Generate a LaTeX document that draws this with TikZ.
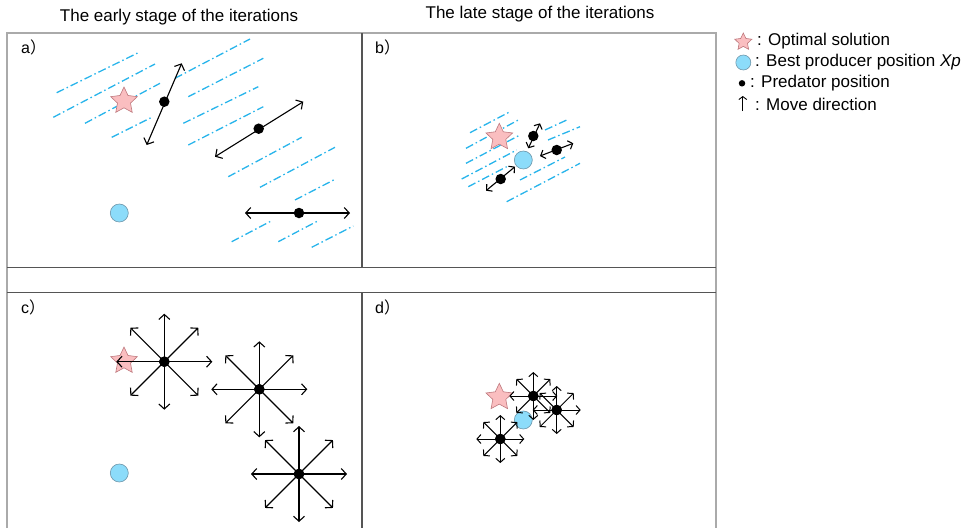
\documentclass[tikz,border=0pt]{standalone}
\usepackage{fontspec}
\setmainfont{Liberation Sans}
\newfontfamily\cjk{Noto Sans CJK SC}
\usetikzlibrary{arrows.meta,shapes.geometric,calc}
\definecolor{starpink}{RGB}{250,190,192}
\definecolor{starline}{RGB}{190,120,125}
\definecolor{bestblue}{RGB}{140,220,250}
\definecolor{bestline}{RGB}{110,150,170}
\definecolor{hatch}{RGB}{40,180,235}
\definecolor{frame}{RGB}{170,170,170}
\definecolor{divide}{RGB}{85,85,85}

\begin{document}
\begin{tikzpicture}[x=1pt,y=-1pt,
  opt/.style={star,star points=5,star point ratio=2.05,minimum size=28pt,inner sep=0pt,fill=starpink,draw=starline,line width=0.6pt},
  best/.style={circle,minimum size=18pt,inner sep=0pt,fill=bestblue,draw=bestline,line width=0.6pt},
  pred/.style={circle,minimum size=10.5pt,inner sep=0pt,fill=black},
  move/.style={{Straight Barb[length=5pt,width=11pt]}-{Straight Barb[length=5pt,width=11pt]},line width=1.1pt},
  smallmove/.style={{Straight Barb[length=4pt,width=9pt]}-{Straight Barb[length=4pt,width=9pt]},line width=1.1pt},
  ray/.style={-{Straight Barb[length=5pt,width=11pt]},line width=1.1pt},
  smallray/.style={-{Straight Barb[length=4pt,width=9pt]},line width=1pt},
  trace/.style={hatch,line width=1.3pt,dash pattern=on 8pt off 3pt on 1.5pt off 3pt},
  txt/.style={font=\fontsize{17}{20}\selectfont,inner sep=0pt},
  panel/.style={font=\fontsize{16}{19}\selectfont,inner sep=0pt,anchor=west},
  ]
\useasboundingbox (0,0) rectangle (972,528);

% titles
\node[txt] (t1) at (179,17) {The early stage of the iterations};
\node[txt] (t2) at (540,14) {The late stage of the iterations};

% frames
\draw[frame,line width=1.2pt] (7,528) -- (7,33) -- (716,33) -- (716,528);
\draw[divide,line width=1.5pt] (7,267.5) -- (716,267.5);
\draw[divide,line width=1.5pt] (7,292.5) -- (716,292.5);
\draw[divide,line width=1.5pt] (362,33) -- (362,267.5);
\draw[divide,line width=1.5pt] (362,292.5) -- (362,528);

% a) early stage, one direction
\node[panel] (la) at (21,47) {a{\cjk ）}};
\foreach \x/\y/\u/\v in {56.7/92.7/138.3/52.7, 53.3/117.3/155/64, 85/123.3/160/83.3,
  111.7/137.3/151.7/117.3, 175/78.3/250/39, 188.3/96.7/263.3/58.3, 183.3/123.3/258.3/86.7,
  188.3/145/263.3/106.7, 228.3/176.7/301.7/137.3, 260/187.3/335/147.3, 295/200/335/179.3,
  231.7/241.7/271.7/220.7, 278.3/241.7/318.3/220.7, 311.7/247.3/353.3/226}
  \draw[trace] (\x,\y) -- (\u,\v);
\node[opt] (sa) at (124,101) {};
\node[best] (ba) at (119.3,213) {};
\coordinate (a1u) at (181.7,63.3);
\coordinate (a1d) at (146.7,145);
\coordinate (a2u) at (303.3,101.7);
\coordinate (a2d) at (215,156.7);
\coordinate (a3l) at (245,213);
\coordinate (a3r) at (350,213);
\draw[move] (a1d) -- (a1u);
\draw[move] (a2d) -- (a2u);
\draw[move] (a3l) -- (a3r);
\node[pred] (pa1) at (164.3,101.7) {};
\node[pred] (pa2) at (258.7,128.7) {};
\node[pred] (pa3) at (299,213) {};

% b) late stage, one direction
\node[panel] (lb) at (375,47) {b{\cjk ）}};
\foreach \x/\y/\u/\v in {470/132.7/510/111.7, 466/148.3/518.3/120, 466/163.3/520/135,
  461.7/179/516.7/150, 468.3/186.7/506.7/166.7, 506.7/201.7/580/163.3,
  545/130/568.3/119.3, 548/140/580/126.7, 520/180/565/157}
  \draw[trace] (\x,\y) -- (\u,\v);
\node[opt] (sb) at (499.3,137.3) {};
\node[best] (bb) at (523.3,160) {};
\coordinate (b1u) at (540,123.3);
\coordinate (b1d) at (528.3,148.3);
\coordinate (b2u) at (573.3,143.3);
\coordinate (b2d) at (540,156);
\coordinate (b3u) at (515,166.7);
\coordinate (b3d) at (486,190.7);
\draw[smallmove] (b1d) -- (b1u);
\draw[smallmove] (b2d) -- (b2u);
\draw[smallmove] (b3d) -- (b3u);
\node[pred] (pb1) at (533.3,136) {};
\node[pred] (pb2) at (556.7,150) {};
\node[pred] (pb3) at (500.7,179) {};

% c) early stage, all directions
\node[panel] (lc) at (21,307) {c{\cjk ）}};
\node[opt] (sc) at (124,361) {};
\node[best] (bc) at (119.3,473) {};
\node[pred] (pc1) at (164.3,361.7) {};
\node[pred] (pc2) at (259.3,389.3) {};
\node[pred] (pc3) at (299,474) {};
\foreach \n in {pc1,pc2,pc3}
  \foreach \a in {0,45,...,315} {
    \coordinate (\n-\a) at ($(\n)+(\a:48)$);
    \draw[ray] (\n.center) -- (\n-\a);
  }
\foreach \n in {pc1,pc2,pc3} \node[pred] at (\n) {};

% d) late stage, all directions
\node[panel] (ld) at (375,307) {d{\cjk ）}};
\node[opt] (sd) at (499.3,397.3) {};
\node[best] (bd) at (523.3,420) {};
\node[pred] (pd1) at (533.3,396) {};
\node[pred] (pd2) at (556.7,410) {};
\node[pred] (pd3) at (500.3,439) {};
\foreach \n in {pd1,pd2,pd3}
  \foreach \a in {0,45,...,315} {
    \coordinate (\n-\a) at ($(\n)+(\a:24)$);
    \draw[smallray] (\n.center) -- (\n-\a);
  }
\foreach \n in {pd1,pd2,pd3} \node[pred] at (\n) {};

% legend
\node[opt,minimum size=18pt] (kstar) at (743.3,42) {};
\node[best,minimum size=15pt] (kbest) at (743.3,62.5) {};
\node[pred,minimum size=6.5pt] (kpred) at (742,83.3) {};
\coordinate (kmove0) at (742.8,111);
\coordinate (kmove1) at (742.8,96);
\draw[-{Straight Barb[length=3pt,width=8pt]},line width=0.9pt] (kmove0) -- (kmove1);
\node[txt,anchor=west] (tstar) at (757,41) {: Optimal solution};
\node[txt,anchor=west] (tbest) at (755,62) {: Best producer position \textit{Xp}};
\node[txt,anchor=west] (tpred) at (750,83.3) {: Predator position};
\node[txt,anchor=west] (tmove) at (755,104) {: Move direction};
\end{tikzpicture}
\end{document}
